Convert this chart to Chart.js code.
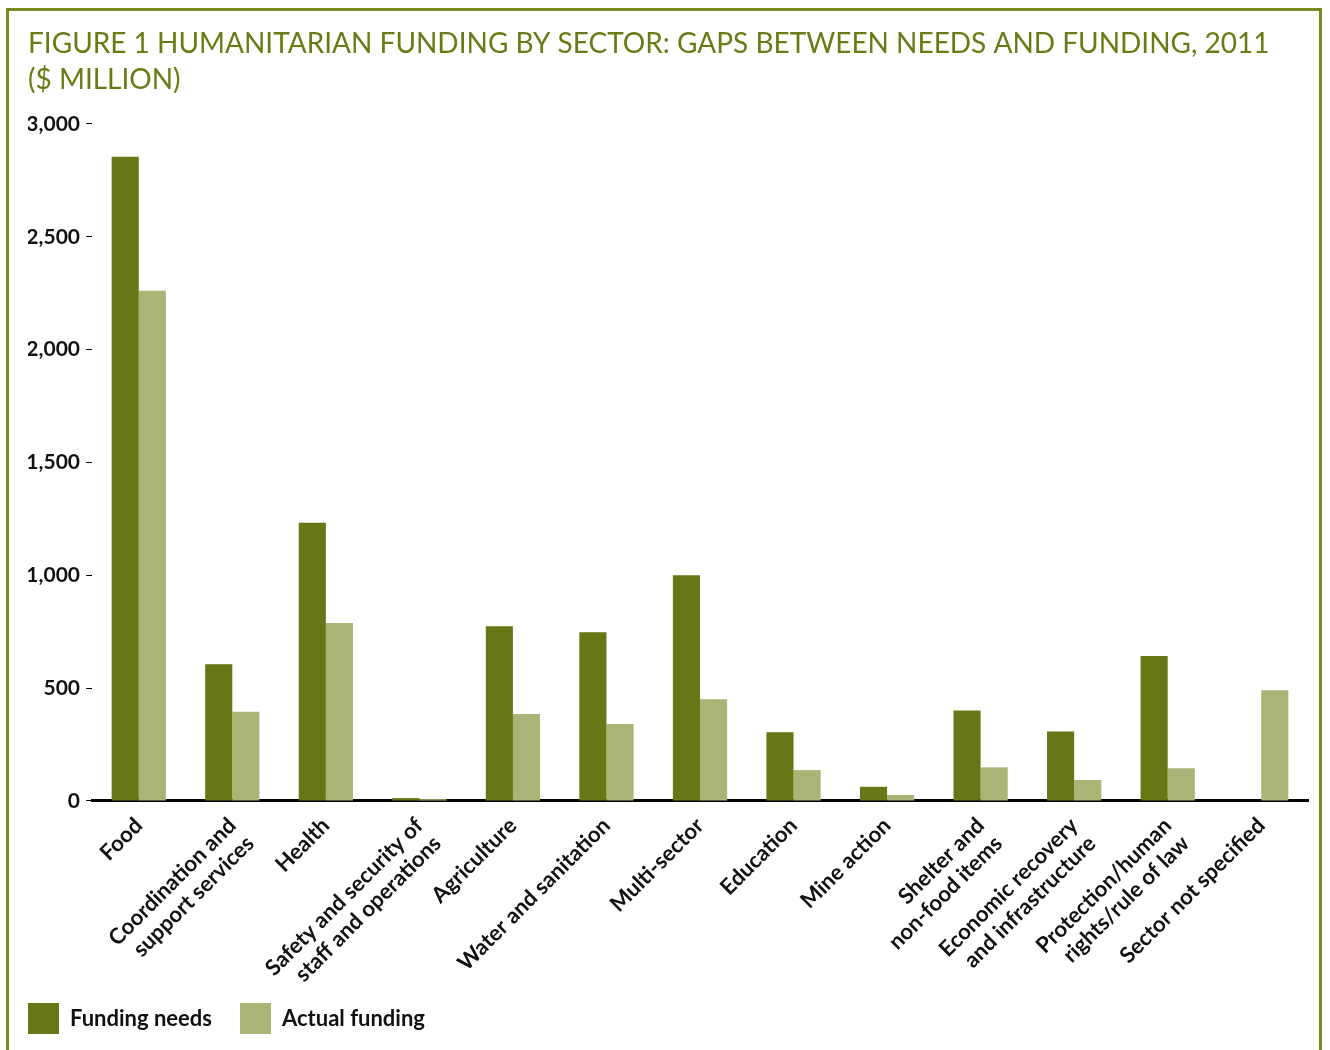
<!DOCTYPE html>
<html>
<head>
<meta charset="utf-8">
<script src="https://cdn.jsdelivr.net/npm/chart.js@4.4.1/dist/chart.umd.min.js"></script>
<style>
  html, body { margin: 0; padding: 0; background: #ffffff; }
  #frame { position: absolute; left: 6px; top: 8px; width: 1316px; height: 1100px; border: 3px solid #7a8a22; box-sizing: border-box; }
  #wrap { position: absolute; left: 0; top: 0; width: 1330px; height: 1050px; }
</style>
</head>
<body>
<div id="frame"></div>
<div id="wrap"><canvas id="c" width="1330" height="1050"></canvas></div>
<script>
const categories = [
  "Food",
  ["Coordination and", "support services"],
  "Health",
  ["Safety and security of", "staff and operations"],
  "Agriculture",
  "Water and sanitation",
  "Multi-sector",
  "Education",
  "Mine action",
  ["Shelter and", "non-food items"],
  ["Economic recovery", "and infrastructure"],
  ["Protection/human", "rights/rule of law"],
  "Sector not specified"
];
const fundingNeeds   = [2855, 606, 1233, 13, 774, 748, 1000, 305, 63, 401, 308, 643, 0];
const actualFunding  = [2261, 395, 789, 8, 385, 341, 451, 137, 27, 149, 93, 145, 491];
const seriesNames = ["Funding needs", "Actual funding"];
const titleLines = ["FIGURE 1 HUMANITARIAN FUNDING BY SECTOR: GAPS BETWEEN NEEDS AND FUNDING, 2011", "($ MILLION)"];

const DARK = "#687616";
const LIGHT = "#aab476";
const OLIVE = "#6b7a14";

const legendShift = {
  id: "legendShift",
  afterLayout(chart) {
    const lg = chart.legend;
    if (lg) { lg.left -= 28; lg.right -= 28; lg.top -= 16; lg.bottom -= 16; }
  }
};

new Chart(document.getElementById("c"), {
  type: "bar",
  data: {
    labels: categories,
    datasets: [
      { label: seriesNames[0], data: fundingNeeds, backgroundColor: DARK, borderWidth: 0 },
      { label: seriesNames[1], data: actualFunding, backgroundColor: LIGHT, borderWidth: 0 }
    ]
  },
  options: {
    responsive: false,
    animation: false,
    datasets: { bar: { categoryPercentage: 0.58, barPercentage: 1.0 } },
    layout: { padding: { left: 28, right: 22, top: 0, bottom: -10 } },
    plugins: {
      tooltip: { enabled: false },
      title: {
        display: true,
        text: titleLines,
        align: "start",
        color: OLIVE,
        font: { family: "Lato", size: 28, weight: "normal", lineHeight: 1.32 },
        padding: { top: 25, bottom: 25 }
      },
      legend: {
        position: "bottom",
        align: "start",
        labels: {
          boxWidth: 31,
          boxHeight: 31,
          padding: 28,
          color: "#111111",
          font: { family: "Lato", size: 22, weight: "bold" }
        }
      }
    },
    scales: {
      x: {
        grid: { display: false },
        border: { display: true, color: "#000000", width: 3 },
        afterFit(scale) { scale.height = 190; },
        ticks: {
          maxRotation: 45,
          minRotation: 45,
          color: "#111111",
          padding: 4,
          font: { family: "Lato", size: 22, weight: "bold", lineHeight: 1.15 }
        }
      },
      y: {
        min: 0,
        max: 3000,
        afterFit(scale) { scale.width = 64; },
        grid: { display: true, drawOnChartArea: false, drawTicks: true, tickLength: 6, color: "#000000", lineWidth: 1 },
        border: { display: false },
        ticks: {
          stepSize: 500,
          color: "#111111",
          padding: 6,
          font: { family: "Lato", size: 21, weight: "bold" },
          callback: (v) => v.toLocaleString("en-US")
        }
      }
    }
  },
  plugins: [legendShift]
});
</script>
</body>
</html>
